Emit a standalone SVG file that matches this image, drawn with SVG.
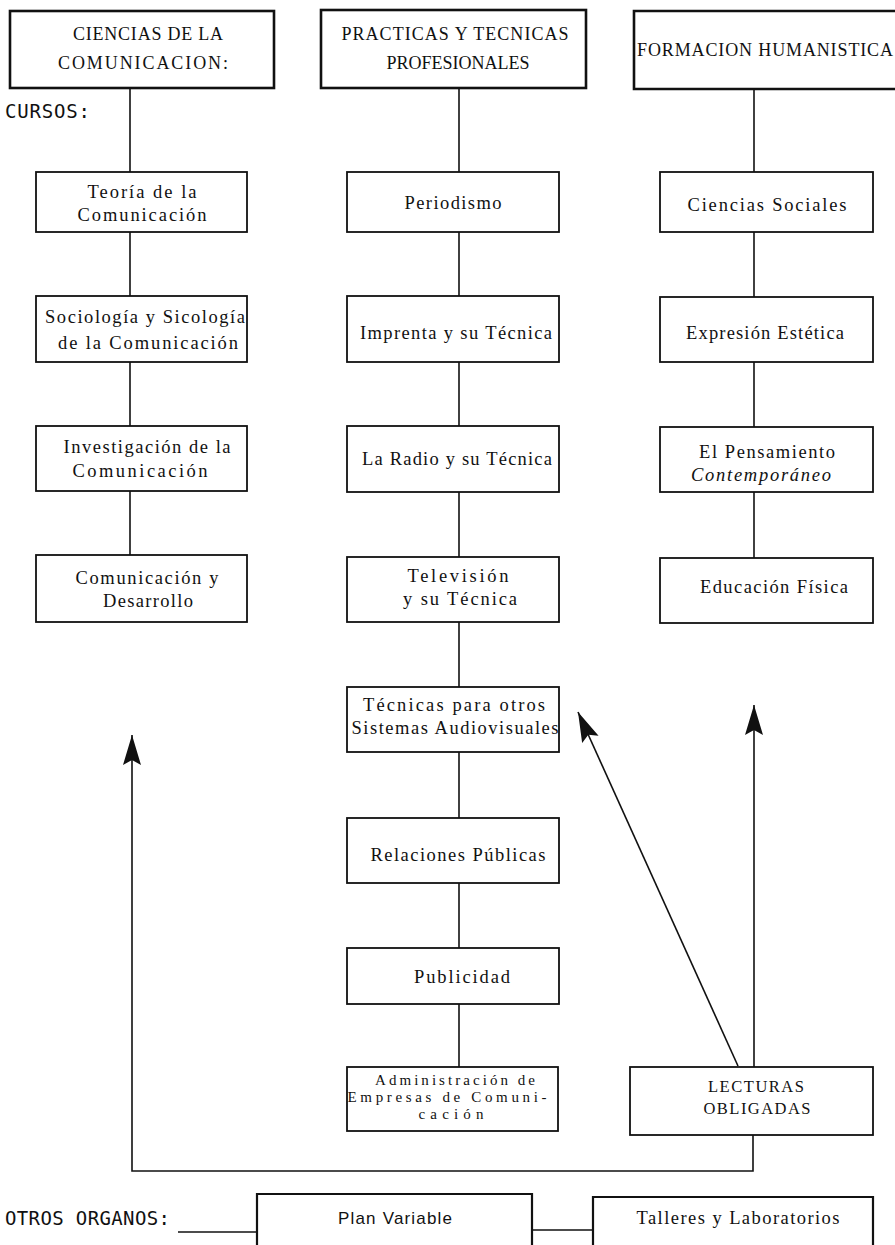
<svg xmlns="http://www.w3.org/2000/svg" width="895" height="1245" viewBox="0 0 895 1245">
<style>
  .bg{fill:#ffffff}
  .box{fill:#ffffff;stroke:#111;stroke-width:1.8}
  .hbox{fill:#ffffff;stroke:#111;stroke-width:2.6}
  .ln{fill:none;stroke:#111;stroke-width:1.6}
  .t{font-family:"Liberation Serif","Times New Roman",serif;font-size:18.5px;fill:#111;text-anchor:middle}
  .ts{font-family:"Liberation Serif","Times New Roman",serif;font-size:15px;fill:#111;text-anchor:middle}
  .tl{font-family:"Liberation Serif","Times New Roman",serif;font-size:16.5px;fill:#111;text-anchor:middle}
  .th{font-family:"Liberation Serif","Times New Roman",serif;font-size:18px;fill:#111;text-anchor:middle}
  .h{font-family:"Liberation Serif","Times New Roman",serif;font-size:18px;fill:#111}
  .m{font-family:"DejaVu Sans Mono","Liberation Mono",monospace;font-size:19px;fill:#111}
  .s{font-family:"Liberation Sans",Arial,sans-serif;font-size:17px;fill:#111;text-anchor:middle}
</style>
<defs>
  <marker id="ah" viewBox="0 0 30 20" refX="30" refY="10" markerWidth="30" markerHeight="20" markerUnits="userSpaceOnUse" orient="auto">
    <path d="M0,1 L30,10 L0,19 L5,10 z" fill="#111"/>
  </marker>
</defs>
<rect class="bg" x="0" y="0" width="895" height="1245"/>

<g id="connectors">
  <line class="ln" x1="130" y1="88" x2="130" y2="172"/>
  <line class="ln" x1="130" y1="232" x2="130" y2="296"/>
  <line class="ln" x1="130" y1="362" x2="130" y2="426"/>
  <line class="ln" x1="130" y1="491" x2="130" y2="555"/>
  <line class="ln" x1="459" y1="88" x2="459" y2="172"/>
  <line class="ln" x1="459" y1="232" x2="459" y2="296"/>
  <line class="ln" x1="459" y1="362" x2="459" y2="426"/>
  <line class="ln" x1="459" y1="492" x2="459" y2="557"/>
  <line class="ln" x1="459" y1="622" x2="459" y2="687"/>
  <line class="ln" x1="459" y1="752" x2="459" y2="818"/>
  <line class="ln" x1="459" y1="883" x2="459" y2="948"/>
  <line class="ln" x1="459" y1="1004" x2="459" y2="1067"/>
  <line class="ln" x1="754" y1="89" x2="754" y2="172"/>
  <line class="ln" x1="754" y1="232" x2="754" y2="297"/>
  <line class="ln" x1="754" y1="362" x2="754" y2="427"/>
  <line class="ln" x1="754" y1="492" x2="754" y2="558"/>
  <polyline class="ln" points="753,1135 753,1171 132,1171 132,735" marker-end="url(#ah)"/>
  <line class="ln" x1="754" y1="1067" x2="754" y2="705" marker-end="url(#ah)"/>
  <line class="ln" x1="738" y1="1066" x2="578" y2="712" marker-end="url(#ah)"/>
  <line class="ln" x1="178" y1="1232" x2="257" y2="1232"/>
  <line class="ln" x1="532" y1="1230" x2="593" y2="1230"/>
</g>

<g id="h1">
  <rect class="hbox" x="10" y="11" width="264" height="77"/>
  <text class="th" x="148" y="40" textLength="150">CIENCIAS DE LA</text>
  <text class="th" x="143" y="69" textLength="170">COMUNICACION:</text>
</g>
<g id="h2">
  <rect class="hbox" x="321" y="10" width="265" height="78"/>
  <text class="th" x="455" y="40" textLength="227">PRACTICAS Y TECNICAS</text>
  <text class="th" x="458" y="69" textLength="143">PROFESIONALES</text>
</g>
<g id="h3">
  <path class="hbox" d="M900,11 H634 V89 H900"/>
  <text class="h" x="637" y="56" textLength="256">FORMACION HUMANISTICA</text>
</g>

<text id="cursos" class="m" x="5" y="118" textLength="85">CURSOS:</text>

<g id="c1">
  <rect class="box" x="36" y="172" width="211" height="60"/>
  <text class="t" x="142" y="198" textLength="109">Teoría de la</text>
  <text class="t" x="142" y="221" textLength="129">Comunicación</text>
</g>
<g id="c2">
  <rect class="box" x="36" y="296" width="211" height="66"/>
  <text class="t" x="145" y="323" textLength="200">Sociología y Sicología</text>
  <text class="t" x="148" y="349" textLength="180">de la Comunicación</text>
</g>
<g id="c3">
  <rect class="box" x="36" y="426" width="211" height="65"/>
  <text class="t" x="147" y="453" textLength="167">Investigación de la</text>
  <text class="t" x="140" y="477" textLength="135">Comunicación</text>
</g>
<g id="c4">
  <rect class="box" x="36" y="555" width="211" height="67"/>
  <text class="t" x="147" y="584" textLength="143">Comunicación y</text>
  <text class="t" x="148" y="607" textLength="90">Desarrollo</text>
</g>

<g id="p1">
  <rect class="box" x="347" y="172" width="212" height="60"/>
  <text class="t" x="453" y="209" textLength="97">Periodismo</text>
</g>
<g id="p2">
  <rect class="box" x="347" y="296" width="212" height="66"/>
  <text class="t" x="456" y="339" textLength="192">Imprenta y su Técnica</text>
</g>
<g id="p3">
  <rect class="box" x="347" y="426" width="212" height="66"/>
  <text class="t" x="457" y="465" textLength="190">La Radio y su Técnica</text>
</g>
<g id="p4">
  <rect class="box" x="347" y="557" width="212" height="65"/>
  <text class="t" x="458" y="582" textLength="101">Televisión</text>
  <text class="t" x="460" y="605" textLength="114">y su Técnica</text>
</g>
<g id="p5">
  <rect class="box" x="347" y="687" width="212" height="65"/>
  <text class="t" x="454" y="711" textLength="182">Técnicas para otros</text>
  <text class="t" x="455" y="734" textLength="207">Sistemas Audiovisuales</text>
</g>
<g id="p6">
  <rect class="box" x="347" y="818" width="212" height="65"/>
  <text class="t" x="458" y="861" textLength="175">Relaciones Públicas</text>
</g>
<g id="p7">
  <rect class="box" x="347" y="948" width="212" height="56"/>
  <text class="t" x="462" y="983" textLength="96">Publicidad</text>
</g>
<g id="p8">
  <rect class="box" x="347" y="1067" width="211" height="64"/>
  <text class="ts" x="455" y="1085" textLength="160">Administración de</text>
  <text class="ts" x="447" y="1102" textLength="199">Empresas de Comuni-</text>
  <text class="ts" x="451" y="1119" textLength="65">cación</text>
</g>

<g id="f1">
  <rect class="box" x="660" y="172" width="213" height="60"/>
  <text class="t" x="767" y="211" textLength="159">Ciencias Sociales</text>
</g>
<g id="f2">
  <rect class="box" x="660" y="297" width="213" height="65"/>
  <text class="t" x="765" y="339" textLength="158">Expresión Estética</text>
</g>
<g id="f3">
  <rect class="box" x="660" y="427" width="213" height="65"/>
  <text class="t" x="767" y="458" textLength="136">El Pensamiento</text>
  <text class="t" x="761" y="481" textLength="140" font-style="italic">Contemporáneo</text>
</g>
<g id="f4">
  <rect class="box" x="660" y="558" width="213" height="65"/>
  <text class="t" x="774" y="593" textLength="148">Educación Física</text>
</g>

<g id="lecturas">
  <rect class="box" x="630" y="1067" width="243" height="68"/>
  <text class="tl" x="756" y="1092" textLength="96">LECTURAS</text>
  <text class="tl" x="757" y="1114" textLength="107">OBLIGADAS</text>
</g>

<text id="otros" class="m" x="5" y="1225" textLength="165">OTROS ORGANOS:</text>
<g id="plan">
  <path class="box" d="M257,1250 V1194 H532 V1250" style="stroke-width:2.2"/>
  <text class="s" x="395" y="1224" textLength="114">Plan Variable</text>
</g>
<g id="talleres">
  <path class="box" d="M593,1250 V1197 H873 V1250" style="stroke-width:2.2"/>
  <text class="t" x="738" y="1224" textLength="203">Talleres y Laboratorios</text>
</g>
</svg>
